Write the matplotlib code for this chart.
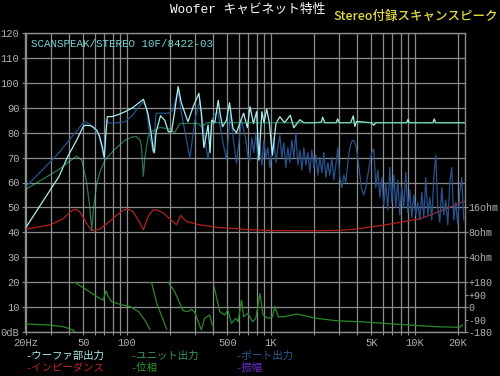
import numpy as np
import matplotlib
matplotlib.use("Agg")
import matplotlib.pyplot as plt
from matplotlib.ticker import FixedLocator, LogLocator, NullFormatter

# ---- data ----
# woofer total output (dB)
total_freq = [20, 29.5, 34, 39, 45, 50, 52, 57, 62, 65, 68, 70, 71.5, 73.5, 80, 90, 97.5, 110, 122, 131,
              141, 148, 153, 156, 160, 172, 184, 195, 205, 215, 228, 240, 254, 267, 290, 318, 330, 344,
              355, 368, 380, 390, 410, 433, 445, 464, 494, 519, 548, 580, 610, 650, 690, 720, 760, 800,
              830, 870, 900, 940, 980, 1030, 1090, 1160, 1250, 1370, 1450, 1600, 1700, 2000, 2250, 2300,
              2380, 2850, 2920, 3000, 3600, 3750, 3850, 3950, 5000, 5200, 5400, 8800, 9000, 9200, 13400,
              13700, 14000, 22400]
total_db = [42, 57, 62.5, 70.4, 77, 82.5, 83, 82.7, 81, 78.5, 74, 70, 78, 86.4, 86.5, 87.5, 88.4, 90, 92, 93.4,
            87.5, 80, 73, 72, 80, 86.8, 85, 80.4, 80.4, 88, 98.5, 92, 87.8, 84.4, 90.4, 95.8, 88, 74,
            78, 83.1, 72, 85, 84, 93, 88, 82.4, 85, 92, 81.7, 80, 83.7, 87.8, 82, 90.4, 83.7, 88.4,
            69, 88.4, 84, 89.5, 84, 71, 83.7, 86.4, 84, 87, 82, 85.2, 84, 84, 84.2, 86.2,
            84, 84, 85.5, 84, 84, 86.7, 82.5, 84.5, 84, 83, 84, 84, 85.3, 84, 84,
            85.5, 84, 84]

# unit output (dB)
unit_freq = [20, 33.4, 44.9, 48.8, 52.8, 55.5, 57.3, 59, 62.2, 66, 70.9, 80, 97.5, 110, 117, 124, 127,
             130.7, 134, 141, 150, 170, 200, 215, 235, 313, 333, 359, 22400]
unit_db = [57.3, 65, 70.6, 69, 60, 50, 41, 50, 59.8, 65, 69, 72.5, 77, 78.3, 78.4, 77, 74,
           62.5, 70, 78.4, 80.5, 82.1, 81.5, 80, 83.7, 83.7, 82.4, 84, 84]

# port output (dB), low part
port_freq = [20, 33.4, 50.8, 55, 60.2, 64, 67, 69.8, 72.5, 75, 82.9, 97.5, 110, 120, 130.6, 137, 145,
             153.3, 160, 195, 210, 228, 240, 261, 275, 298, 323, 348, 368, 397, 430, 460, 494, 525,
             550, 580, 628, 670, 700]
port_db = [58.3, 71.5, 84.4, 83.5, 81.7, 79, 74.4, 69.7, 85, 84, 83.8, 84.4, 87, 90, 92.4, 90, 79,
           71.7, 87.8, 87.8, 89, 97, 88, 77, 69.7, 85, 93, 78.4, 69, 86.4, 88.4, 78, 69, 87.8,
           78, 67.7, 85, 78, 69]
# port output (dB), high part
port_hf_freq = [718, 741, 765, 790, 816, 842, 870, 898, 927, 957, 988, 1020, 1053, 1088, 1123, 1160,
                1197, 1236, 1276, 1318, 1361, 1405, 1451, 1498, 1546, 1597, 1649, 1702, 1757, 1814,
                1873, 1934, 1997, 2062, 2129, 2198, 2269, 2343, 2419, 2498, 2579, 2663, 2749, 2838,
                2931, 3026, 3124, 3226, 3330, 3439, 3550, 3666, 3785, 3908, 4035, 4166, 4301, 4441,
                4585, 4734, 4888, 5046, 5210, 5380, 5554, 5735, 5921, 6113, 6312, 6517, 6729, 6947,
                7173, 7406, 7646, 7895, 8151, 8416, 8689, 8972, 9263, 9564, 9875, 10196, 10527,
                10869, 11222, 11587, 11963, 12352, 12753, 13168, 13596, 14037, 14493, 14964, 15451,
                15953, 16471, 17006, 17559, 18129, 18718, 19326, 19955, 20603, 21272, 21963]
port_hf_db = [69, 78, 72, 80, 70, 75, 67, 77, 70, 74, 66, 72, 78, 68, 74, 79,
              70, 76, 66, 74, 68, 77, 70, 80, 67, 73, 65, 74, 67, 72,
              64, 73, 66, 71, 63, 70, 64, 72, 62, 68, 63, 70, 61, 67,
              74, 62, 58, 63, 60, 68, 74, 76.5, 77, 75, 70, 63, 57, 55,
              58, 63, 68, 72, 73.5, 58, 65, 54, 62, 51, 60, 49, 66, 52,
              63, 50, 61, 47, 58, 50, 64, 48, 57, 46, 55, 47, 52,
              45, 56, 46, 62, 47, 54, 45, 62, 71, 50, 44, 58,
              47, 53, 43, 60, 66, 45, 52, 43, 56, 62, 45]

# impedance (ohm)
imp_freq = [20, 29.5, 36.4, 39, 42.6, 45, 47.4, 52.8, 57, 65, 76, 85, 95, 100, 105, 111, 124, 130.7,
            141, 148, 153, 160, 170, 180, 216, 222, 237, 261, 322, 421, 548, 720, 1000, 2000, 3000,
            3900, 6300, 11000, 16000, 21000, 22400]
imp_ohm = [8.76, 9.85, 11.7, 13.2, 15.0, 15.1, 14.1, 10.3, 8.4, 8.7, 10.8, 12.8, 14.8, 15.2, 15.0, 14.2,
           10.3, 8.6, 12.4, 14.0, 14.9, 15.0, 14.5, 13.7, 10.3, 9.85, 12.8, 10.8, 9.85, 9.2, 8.9, 8.6,
           8.4, 8.35, 8.45, 8.76, 9.85, 11.7, 15.0, 18.4, 19.0]

# phase (deg)
phase_freq = [20, 29.5, 36.4, 42.6, 43.5, 43.8, 52.8, 65, 68.7, 72, 74.5, 78.6, 90, 106, 121, 135, 145,
              149, 162, 190, 195, 216, 234, 247, 267, 283, 298, 330, 348, 378, 393, 404, 444, 480,
              505, 535, 573, 595, 628, 650, 694, 750, 790, 843, 887, 960, 1030, 1070, 1130, 1240,
              1520, 2080, 2880, 4200, 6100, 9200, 14200, 20400, 21500]
phase_deg = [-122, -130, -142, -166, -178, 178, 124, 63, 50, 117, 76, 40, 20, 3, -33, -100, -160,
             178, 27, -160, 180, 111, 27, -26, -33, -16, -40, -165, -81, -57, -130, 153, -33, -57,
             -21, -117, -81, -106, 50, -70, -45, -106, -81, 99, -57, -81, -70, 4, -70, -70,
             -50, -81, -99, -106, -117, -130, -142, -146, -130]

freq_ticks = [20, 50, 100, 500, 1000, 5000, 10000, 20000]
freq_labels = ["20Hz", "50", "100", "500", "1K", "5K", "10K", "20K"]
db_ticks = list(range(0, 121, 10))
db_labels = ["0dB"] + [str(v) for v in range(10, 121, 10)]
right_ticks = [50, 40, 30, 20, 15, 10, 5, 0]
right_labels = ["16ohm", "8ohm", "4ohm", "+180", "+90", "0", "-90", "-180"]

legend_items = [("-ウーファ部出力", "#a8eeee"), ("-ユニット出力", "#2f9a60"), ("-ポート出力", "#2f5a9a"),
                ("-インピーダンス", "#c02424"), ("-位相", "#2c9a2c"), ("-振幅", "#6a2cd0")]

MONO = ["Liberation Mono", "Noto Sans CJK JP"]
GRID = "#8c8c8c"
LABEL = "#b0b0b0"


def ohm_to_db(z):
    return 40 + 10 * np.log2(np.asarray(z) / 8.0)


def deg_to_db(d):
    return 10 + np.asarray(d, dtype=float) / 18.0


# ---- figure ----
fig = plt.figure(figsize=(5.0, 3.76), dpi=100, facecolor="black")
ax = fig.add_axes([25 / 500, 44 / 376, 440 / 500, 299 / 376])
ax.set_facecolor("black")
ax.set_xscale("log")
ax.set_xlim(19.7, 22400)
ax.set_ylim(0, 120)

ax.xaxis.set_major_locator(FixedLocator(freq_ticks))
ax.xaxis.set_minor_locator(LogLocator(base=10, subs=range(1, 10), numticks=20))
ax.xaxis.set_minor_formatter(NullFormatter())
ax.set_xticklabels(freq_labels)
ax.set_yticks(db_ticks)
ax.set_yticklabels(db_labels)
ax.grid(which="both", axis="x", color=GRID, lw=0.9)
ax.grid(which="major", axis="y", color=GRID, lw=0.9)
ax.set_axisbelow(True)
for s in ax.spines.values():
    s.set_color(GRID)
    s.set_linewidth(1.0)
ax.tick_params(axis="both", which="major", colors=GRID, labelcolor=LABEL, length=2, width=0.8,
               pad=2, labelsize=7.5)
ax.tick_params(axis="x", which="minor", colors=GRID, length=2, width=0.8)
for lab in ax.get_xticklabels() + ax.get_yticklabels():
    lab.set_family(MONO)

ax2 = ax.twinx()
ax2.set_ylim(0, 120)
ax2.set_yticks(right_ticks)
ax2.set_yticklabels(right_labels)
ax2.tick_params(axis="y", colors=GRID, labelcolor=LABEL, length=2, width=0.8, pad=0.5, labelsize=7.2)
for s in ax2.spines.values():
    s.set_visible(False)
for lab in ax2.get_yticklabels():
    lab.set_family(MONO)

# curves
ax.plot(imp_freq, ohm_to_db(imp_ohm), color="#b42020", lw=0.9)

pf = np.array(phase_freq, dtype=float)
pd_ = np.array(phase_deg, dtype=float)
cut = np.where(np.abs(np.diff(pd_)) > 250)[0] + 1
pf = np.insert(pf, cut, np.nan)
pd_ = np.insert(pd_, cut, np.nan)
ax.plot(pf, deg_to_db(pd_), color="#2a8a2a", lw=0.9)

ax.plot(port_freq + port_hf_freq, port_db + port_hf_db, color="#27528c", lw=0.9)
ax.plot(total_freq, total_db, color="#aaeeee", lw=0.9)
ax.plot(unit_freq, unit_db, color="#46c882", lw=0.9, alpha=0.6)

ax.text(0.0136, 0.963, "SCANSPEAK/STEREO 10F/8422-03", transform=ax.transAxes, color="#78d4d4",
        fontsize=7.8, family=MONO, va="center", ha="left")

# titles
fig.text(170 / 500, 1 - 10 / 376, "Woofer キャビネット特性", color="white", fontsize=9.2,
         family=MONO, va="center", ha="left")
fig.text(333 / 500, 1 - 16 / 376, "Stereo付録スキャンスピーク", color="#e4dc3a", fontsize=9.0,
         family=["Noto Sans CJK JP", "DejaVu Sans"], weight="medium", va="center", ha="left")

# legend
legend_x = [25, 130, 235]
legend_y = [356, 368]
for i, (txt, col) in enumerate(legend_items):
    fig.text(legend_x[i % 3] / 500, 1 - legend_y[i // 3] / 376, txt, color=col, fontsize=7.5,
             family=MONO, va="center", ha="left")

fig.savefig("out.png", dpi=100, facecolor="black")
